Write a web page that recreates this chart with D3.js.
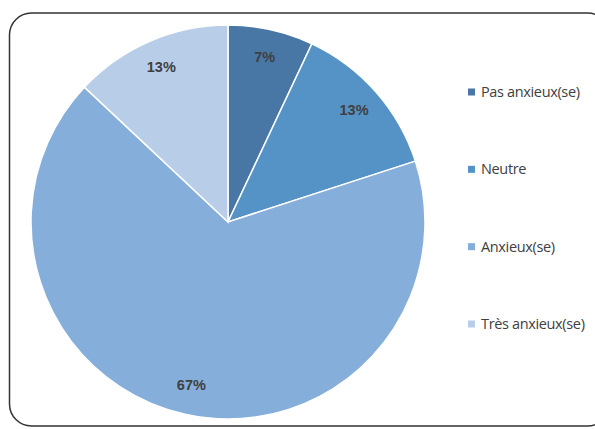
<!DOCTYPE html>
<html><head><meta charset="utf-8">
<script src="https://cdn.jsdelivr.net/npm/d3@7"></script>
<style>body{margin:0;background:#fff}svg{display:block}</style>
</head><body>
<svg id="c" width="595" height="429"></svg>
<script>
const categories = ["Pas anxieux(se)", "Neutre", "Anxieux(se)", "Très anxieux(se)"];
const values = [7, 13, 67, 13];
const labels = ["7%", "13%", "67%", "13%"];
const colors = ["#4977A5", "#5593C7", "#86AEDB", "#B8CDE7"];

const svg = d3.select("#c");
svg.append("rect").attr("x", 9.5).attr("y", 13).attr("width", 600).attr("height", 413)
  .attr("rx", 22).attr("ry", 22).attr("fill", "none").attr("stroke", "#333").attr("stroke-width", 1.5);

const cx = 228, cy = 222, r = 197;
const pie = d3.pie().value(d => d).sort(null);
const arcs = pie(values);
const arc = d3.arc().innerRadius(0).outerRadius(r);
const labelArc = d3.arc().innerRadius(168).outerRadius(168);
const g = svg.append("g").attr("transform", `translate(${cx},${cy})`);
g.selectAll("path").data(arcs).join("path")
  .attr("d", arc).attr("fill", (d, i) => colors[i])
  .attr("stroke", "#fff").attr("stroke-width", 1.5);
g.selectAll("text").data(arcs).join("text")
  .attr("transform", d => `translate(${labelArc.centroid(d)})`)
  .attr("text-anchor", "middle").attr("dy", "0.3em")
  .attr("font-family", "Liberation Sans, Arial, sans-serif").attr("font-weight", "bold")
  .attr("font-size", 14.5).attr("fill", "#404040")
  .text((d, i) => labels[i]);

const y = d3.scalePoint().domain(categories).range([92, 324]);
const lg = svg.append("g");
const items = lg.selectAll("g").data(categories).join("g")
  .attr("transform", d => `translate(468,${y(d)})`);
items.append("rect").attr("x", 0).attr("y", -3.5).attr("width", 7).attr("height", 7)
  .attr("fill", (d, i) => colors[i]);
items.append("text").attr("x", 13).attr("dy", "0.35em")
  .attr("font-family", "Open Sans, sans-serif").attr("font-size", 14.5).attr("fill", "#404040")
  .attr("letter-spacing", -0.35)
  .text(d => d);
</script>
</body></html>
